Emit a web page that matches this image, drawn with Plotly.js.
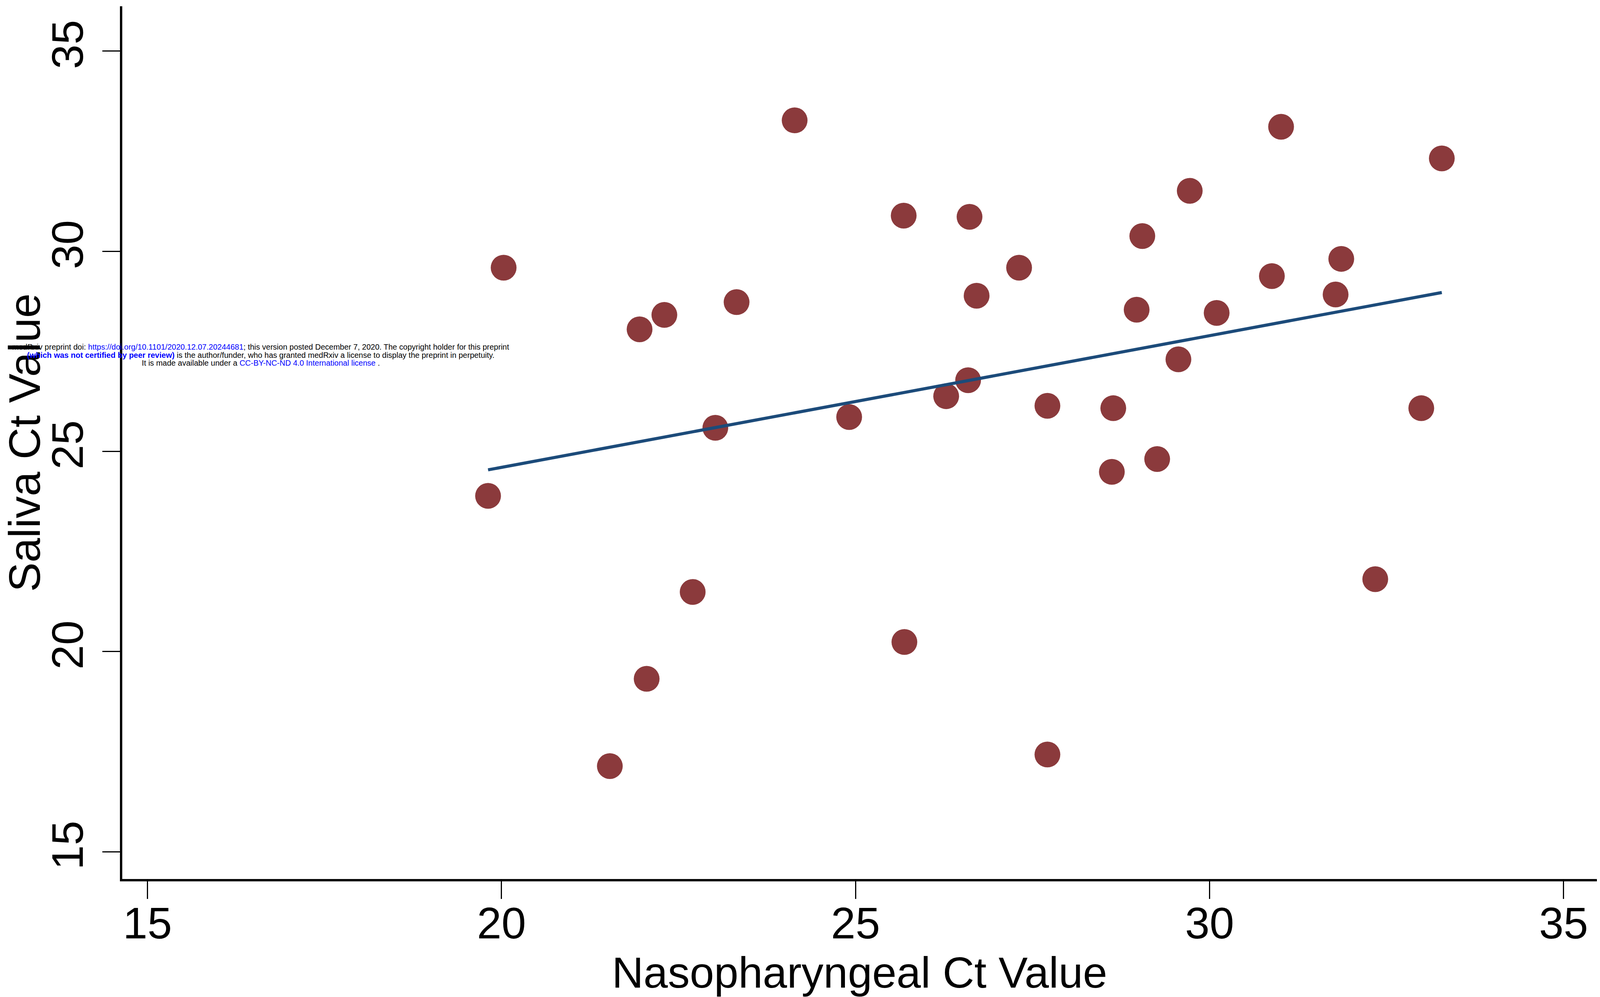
<!DOCTYPE html>
<html>
<head>
<meta charset="utf-8">
<script src="https://cdn.plot.ly/plotly-3.0.1.min.js"></script>
<style>html,body{margin:0;padding:0;background:#fff;overflow:hidden;}#chart{position:absolute;left:0;top:0;}</style>
</head>
<body>
<div id="chart"></div>
<script>
// Data
const npCt = [19.81, 20.03, 21.53, 21.95, 22.05, 22.30, 22.70, 23.02, 23.32, 24.14,
              24.91, 25.68, 25.69, 26.28, 26.59, 26.61, 26.71, 27.31, 27.71, 27.71,
              28.62, 28.64, 28.97, 29.05, 29.26, 29.56, 29.72, 30.10, 30.88, 31.01,
              31.78, 31.86, 32.34, 32.99, 33.28];
const salivaCt = [23.89, 29.59, 17.14, 28.05, 19.32, 28.41, 21.49, 25.59, 28.73, 33.27,
                  25.86, 30.89, 20.24, 26.38, 26.78, 30.86, 28.89, 29.59, 26.14, 17.43,
                  24.49, 26.08, 28.54, 30.38, 24.81, 27.30, 31.51, 28.46, 29.38, 33.11,
                  28.92, 29.81, 21.81, 26.08, 32.32];
const fitX = [19.81, 33.28];
const fitY = [24.54, 28.97];
const tickVals = [15, 20, 25, 30, 35];
const tickText = ["15", "20", "25", "30", "35"];

const W = window.innerWidth || 4311, H = window.innerHeight || 2552;
const sx = W / 4311, sy = H / 2552;
const M = {l: Math.round(329 * sx), r: Math.round(8 * sx), t: Math.round(16 * sy), b: Math.round(302 * sy)};
const pw = W - M.l - M.r, ph = H - M.t - M.b;
function px(x) { return (x * sx - M.l) / pw; }
function py(y) { return (H - M.b - y * sy) / ph; }
document.getElementById('chart').style.width = W + 'px';
document.getElementById('chart').style.height = H + 'px';

const FONT = "Liberation Sans, Arial, Helvetica, sans-serif";
const blue = "#0000ff";
const wm = [
  'medRxiv preprint doi: <span style="color:' + blue + '">https://doi.org/10.1101/2020.12.07.20244681</span>; this version posted December 7, 2020. The copyright holder for this preprint',
  '<b><span style="color:' + blue + '">(which was not certified by peer review)</span></b> is the author/funder, who has granted medRxiv a license to display the preprint in perpetuity.',
  'It is made available under a <span style="color:' + blue + '">CC-BY-NC-ND 4.0 International license</span> .'
];
const wmY = [888, 909, 929];

const annotations = wm.map((t, i) => ({
  text: t, xref: 'paper', yref: 'paper', x: px(703), y: py(wmY[i]),
  xanchor: 'center', yanchor: 'middle', showarrow: false,
  font: {family: FONT, size: 20, color: '#000'}
}));

const traces = [
  {x: npCt, y: salivaCt, type: 'scatter', mode: 'markers',
   marker: {size: 66, color: '#8b3a3c', line: {width: 0}}, showlegend: false},
  {x: fitX, y: fitY, type: 'scatter', mode: 'lines',
   line: {color: '#1c4b7a', width: 8}, showlegend: false}
];

const axisCommon = {
  showgrid: false, zeroline: false, showline: true, linecolor: '#000', linewidth: 6,
  ticks: 'outside', ticklen: 45, tickwidth: 3, tickcolor: '#000',
  tickvals: tickVals, ticktext: tickText,
  tickfont: {family: FONT, size: 113, color: '#000'}, automargin: false, mirror: false
};

const layout = {
  width: W, height: H, margin: M,
  paper_bgcolor: '#fff', plot_bgcolor: '#fff',
  xaxis: Object.assign({}, axisCommon, {
    range: [14.644, 35.47], ticklabelstandoff: -35,
    title: {text: 'Nasopharyngeal Ct Value', font: {family: FONT, size: 112, color: '#000'}, standoff: 77}
  }),
  yaxis: Object.assign({}, axisCommon, {
    range: [14.32, 36.12], tickangle: -90, ticklabelstandoff: 5,
    title: {text: 'Saliva Ct Value', font: {family: FONT, size: 113, color: '#000'}, standoff: 48}
  }),
  annotations: annotations
};

Plotly.newPlot('chart', traces, layout, {staticPlot: true, displayModeBar: false});
</script>
</body>
</html>
